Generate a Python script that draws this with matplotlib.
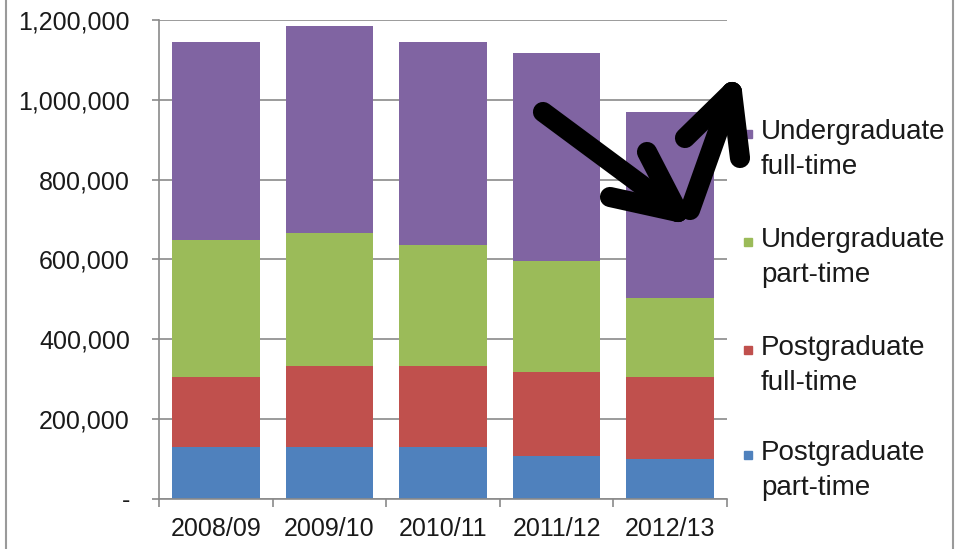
import numpy as np
import matplotlib
matplotlib.use("Agg")
import matplotlib.pyplot as plt
from matplotlib.patches import Rectangle
from matplotlib.ticker import FuncFormatter

plt.rcParams['font.family'] = ['Liberation Sans', 'DejaVu Sans']

years = ["2008/09", "2009/10", "2010/11", "2011/12", "2012/13"]
series = ["Postgraduate\npart-time", "Postgraduate\nfull-time",
          "Undergraduate\npart-time", "Undergraduate\nfull-time"]
pg_part = [129000, 129000, 129000, 107000, 100000]
pg_full = [176000, 205000, 205000, 211000, 205000]
ug_part = [345000, 332000, 303000, 279000, 198000]
ug_full = [495000, 520000, 508000, 520000, 467000]
colors = ["#4F81BD", "#C0504D", "#9BBB59", "#8064A2"]

fig = plt.figure(figsize=(9.61, 5.49), dpi=100)
ax = fig.add_axes([0.1655, 0.0911, 0.591, 0.8725])

x = np.arange(len(years))
bottom = np.zeros(len(years))
for vals, c in zip([pg_part, pg_full, ug_part, ug_full], colors):
    ax.bar(x, vals, 0.77, bottom=bottom, color=c, zorder=2)
    bottom += np.array(vals)

grid_c = "#8a8a8a"
ax.set_xlim(-0.5, len(years) - 0.5)
ax.set_ylim(0, 1200000)
ax.set_yticks(np.arange(0, 1200001, 200000))
ax.yaxis.set_major_formatter(FuncFormatter(lambda v, p: "-" if v == 0 else f"{int(v):,}"))
ax.grid(axis="y", color=grid_c, linewidth=1.2, zorder=1)
ax.set_axisbelow(True)
for s in ["top", "right"]:
    ax.spines[s].set_visible(False)
for s in ["left", "bottom"]:
    ax.spines[s].set_color(grid_c)
    ax.spines[s].set_linewidth(1.2)

ax.set_xticks(x)
ax.set_xticklabels(years)
ax.set_xticks(np.arange(-0.5, len(years)), minor=True)
ax.tick_params(axis="x", which="major", length=0, pad=13, labelsize=18, colors="#1a1a1a")
ax.tick_params(axis="x", which="minor", length=6, width=1.2, color=grid_c, direction="out")
ax.tick_params(axis="y", length=5, width=1.2, color=grid_c, pad=16, labelsize=18,
               labelcolor="#1a1a1a")

# legend drawn by hand: square aligned with first text line
W, H = fig.get_size_inches() * fig.dpi
leg_y = [134, 242, 350, 455]
for lab, c, yp in zip(series[::-1], colors[::-1], leg_y):
    fig.patches.append(Rectangle((744 / W, 1 - (yp + 4) / H), 8 / W, 8 / H,
                                 transform=fig.transFigure, color=c))
    fig.text(761 / W, 1 - (yp - 15) / H, lab, fontsize=20, color="#1a1a1a",
             va="top", ha="left", linespacing=1.45)

# frame around the picture
fig.patches.append(Rectangle((6 / W, -0.01), (953 - 6) / W, 1.05, transform=fig.transFigure,
                             fill=False, edgecolor="#9a9a9a", linewidth=1.5))

# hand-drawn black arrows
def px(xp, yp):
    return xp / W, 1 - yp / H

lw = 14.5
segs = [
    [(543, 112), (678, 212)], [(678, 212), (647, 152)], [(678, 212), (610, 197)],
    [(690, 210), (732, 92)], [(732, 92), (685, 138)], [(732, 92), (740, 158)],
]
for a, b in segs:
    (x0, y0), (x1, y1) = px(*a), px(*b)
    fig.add_artist(plt.Line2D([x0, x1], [y0, y1], transform=fig.transFigure,
                              color="black", linewidth=lw, solid_capstyle="round", zorder=10))

fig.savefig("out.png", dpi=100)
